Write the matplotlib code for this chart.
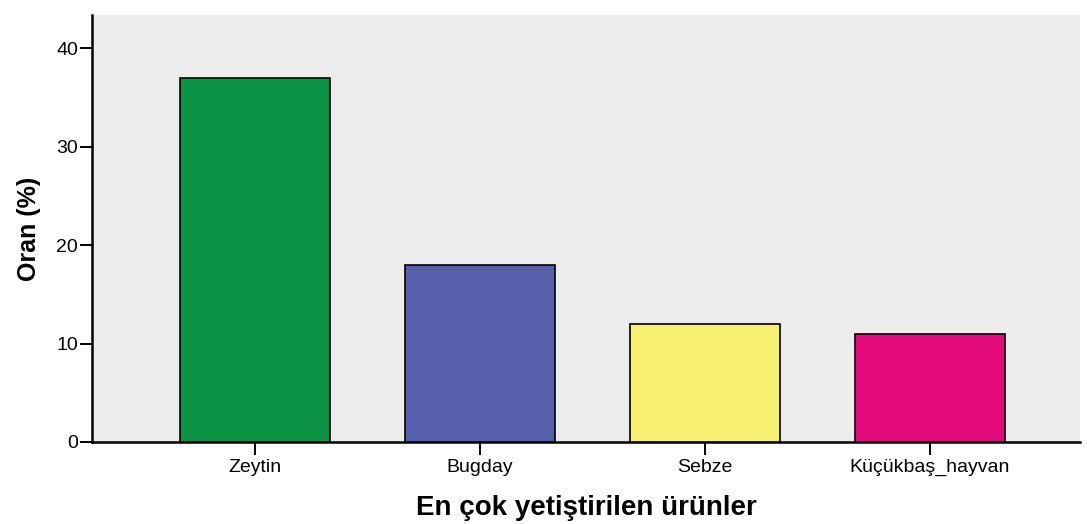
import matplotlib
matplotlib.use("Agg")
import matplotlib.pyplot as plt

categories = ["Zeytin", "Bugday", "Sebze", "Küçükbaş_hayvan"]
values = [37, 18, 12, 11]
colors = ["#0b9345", "#5660aa", "#f6ef70", "#e2097c"]
yticks = [0, 10, 20, 30, 40]

plt.rcParams['font.family'] = ['Liberation Sans', 'DejaVu Sans']

fig = plt.figure(figsize=(10.87, 5.24), dpi=100)
ax = fig.add_axes([0.0846, 0.1565, 0.909, 0.815])
ax.set_facecolor("#ececec")

x = range(len(categories))
ax.bar(x, values, width=0.667, color=colors, edgecolor="black", linewidth=1.2, zorder=3)

ax.set_xlim(-0.724, 3.667)
ax.set_ylim(0, 43.4)
ax.set_yticks(yticks)
ax.set_xticks(list(x))
ax.set_xticklabels(categories, fontsize=14)
ax.tick_params(axis='y', labelsize=14, length=9, width=1.4, direction='out', pad=1)
ax.tick_params(axis='x', length=9, width=1.4, direction='out', pad=3)

for s in ["top", "right"]:
    ax.spines[s].set_visible(False)
for s in ["left", "bottom"]:
    ax.spines[s].set_linewidth(1.8)
    ax.spines[s].set_color("black")

ax.set_xlabel("En çok yetiştirilen ürünler", fontsize=20, fontweight="bold", labelpad=14)
ax.set_ylabel("Oran (%)", fontsize=18, fontweight="bold", labelpad=11)

fig.savefig("out.png", dpi=100)
